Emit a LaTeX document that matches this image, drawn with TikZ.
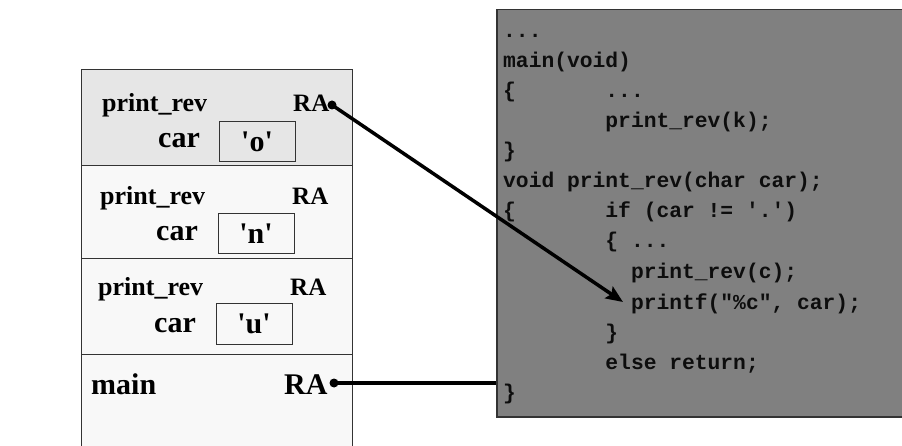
\documentclass[tikz,border=0pt]{standalone}
\usepackage{fontspec}
\setmainfont{Liberation Serif}
\newfontfamily\plainserif[Ligatures=ResetAll]{Liberation Serif}
\newfontfamily\codefont[Ligatures=ResetAll]{Liberation Mono}
\usetikzlibrary{arrows.meta}
\newcommand\ind[1]{\hspace*{\dimexpr 0.6em*#1\relax}}
\newcommand\sq{\symbol{39}}
\definecolor{topframe}{HTML}{E6E6E6}
\definecolor{frame}{HTML}{F8F8F8}
\definecolor{codebg}{HTML}{808080}
\definecolor{edge}{HTML}{333333}
\tikzset{
  fs/.style={anchor=base west, inner sep=0pt, font=\bfseries\fontsize{#1}{#1}\selectfont},
  framebox/.style={draw=edge, line width=1.3pt, anchor=north west, inner sep=0pt},
  valbox/.style={draw=edge, line width=1pt, inner sep=0pt, font=\plainserif\bfseries\fontsize{30}{30}\selectfont},
  dot/.style={circle, fill=black, inner sep=0pt, minimum size=9pt},
  link/.style={line width=3.5pt},
  codeline/.style={anchor=base west, inner sep=0pt, text=black!95, font=\codefont\bfseries\fontsize{21.3}{21.3}\selectfont},
}
\begin{document}
\begin{tikzpicture}[x=1pt,y=-1pt]
\useasboundingbox (0,0) rectangle (902,446);
% code panel
\node[draw=edge, line width=1.5pt, fill=codebg, anchor=north west, minimum width=440pt, minimum height=407pt, inner sep=0pt] (code) at (496,9) {};
\node[codeline] (c0) at (503,38) {...};
\node[codeline] (c1) at (503,68) {main(void)};
\node[codeline] (c2) at (503,98) {\{\ind{7}...};
\node[codeline] (c3) at (503,128) {\ind{8}print\_rev(k);};
\node[codeline] (c4) at (503,158) {\}};
\node[codeline] (c5) at (503,188) {void print\_rev(char car);};
\node[codeline] (c6) at (503,218) {\{\ind{7}if (car != \sq.\sq)};
\node[codeline] (c7) at (503,248) {\ind{8}\{ ...};
\node[codeline] (c8) at (503,279) {\ind{10}print\_rev(c);};
\node[codeline] (c9) at (503,309) {\ind{10}printf(\symbol{34}\%c\symbol{34}, car);};
\node[codeline] (c10) at (503,339) {\ind{8}\}};
\node[codeline] (c11) at (503,369) {\ind{8}else return;};
\node[codeline] (c12) at (503,399) {\}};
\coordinate (tip) at (623,302);
% stack frames
\node[framebox, fill=topframe, minimum width=271pt, minimum height=96pt] (f1) at (81,69) {};
\node[framebox, fill=frame, minimum width=271pt, minimum height=93pt] (f2) at (81,165) {};
\node[framebox, fill=frame, minimum width=271pt, minimum height=96pt] (f3) at (81,258) {};
\node[framebox, fill=frame, minimum width=271pt, minimum height=110pt] (f4) at (81,354) {};
% frame 1
\node[fs=26] (p1) at (102,112) {print\_rev};
\node[fs=25] (r1) at (293,112) {RA};
\node[fs=30] (k1) at (158,148) {car};
\node[valbox, fill=topframe, minimum width=76pt, minimum height=40pt] (v1) at (257,142) {\sq o\sq};
% frame 2
\node[fs=26] (p2) at (100,205) {print\_rev};
\node[fs=25] (r2) at (292,205) {RA};
\node[fs=30] (k2) at (156,241) {car};
\node[valbox, fill=frame, minimum width=76pt, minimum height=40pt] (v2) at (256,234) {\sq n\sq};
% frame 3
\node[fs=26] (p3) at (98,295) {print\_rev};
\node[fs=25] (r3) at (290,295) {RA};
\node[fs=30] (k3) at (154,332) {car};
\node[valbox, fill=frame, minimum width=76pt, minimum height=40pt] (v3) at (254,324) {\sq u\sq};
% frame 4
\node[fs=30] (m4) at (91,394) {main};
\node[fs=30] (r4) at (284,394) {RA};
% connectors
\node[dot] (d1) at (332,105) {};
\node[dot] (d4) at (334,383) {};
\draw[link, -{Stealth[length=17pt, width=14pt, inset=3pt]}] (d1.center) -- (tip);
\draw[link] (d4.center) -- (d4 -| code.west);
\end{tikzpicture}
\end{document}
